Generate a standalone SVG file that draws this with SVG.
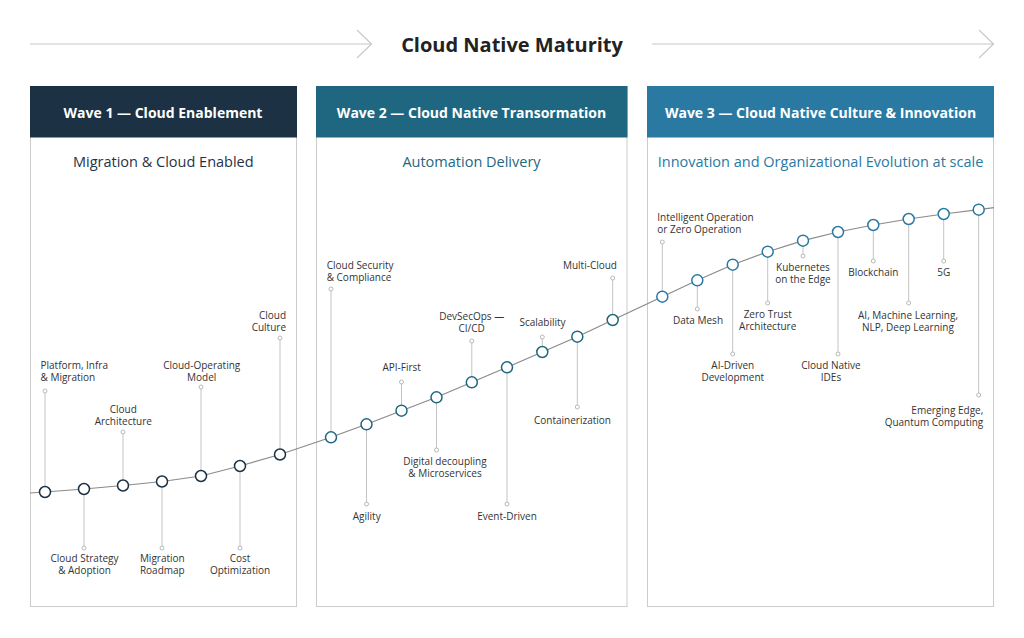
<svg xmlns="http://www.w3.org/2000/svg" width="1024" height="638" viewBox="0 0 1024 638">
<style>
text{font-family:"Open Sans","Liberation Sans",sans-serif}
.panel{fill:#fff;stroke:#cccccc;stroke-width:1}
.htxt{fill:#fff;font-size:14px;font-weight:700;text-anchor:middle}
.sub{font-size:14.5px;text-anchor:middle}
.lbl{fill:#333;font-size:10px}
.m{text-anchor:middle}.s{text-anchor:start}.e{text-anchor:end}
.lead{stroke:#c4c4c4;stroke-width:1;fill:none}
.tip{fill:#fff;stroke:#b0b0b0;stroke-width:0.9}
.dot{fill:#fff;stroke-width:1.5}
.w1 .dot{stroke:#1c3144}.w2 .dot{stroke:#1f6781}.w3 .dot{stroke:#2a79a3}
.arrow{stroke:#c8c8c8;stroke-width:1.2;fill:none}
</style>
<rect width="1024" height="638" fill="#fff"/>
<g id="title">
<path class="arrow" d="M30 44H371M357 30L371.5 44L357 58"/>
<path class="arrow" d="M652 44H993M979 30L993.5 44L979 58"/>
<text x="512" y="51.5" font-size="20" font-weight="700" fill="#222" text-anchor="middle">Cloud Native Maturity</text>
</g>
<g id="wave1">
<rect class="panel" x="30.5" y="86.5" width="266" height="520"/>
<rect x="30" y="86" width="267" height="51.5" fill="#1c3144"/>
<text class="htxt" x="163" y="117.5">Wave 1 — Cloud Enablement</text>
<text class="sub" x="163.3" y="166.5" fill="#1f3346">Migration &amp; Cloud Enabled</text>
</g>
<g id="wave2">
<rect class="panel" x="316.5" y="86.5" width="310.5" height="520"/>
<rect x="316" y="86" width="311.5" height="51.5" fill="#1f6781"/>
<text class="htxt" x="471.5" y="117.5">Wave 2 — Cloud Native Transormation</text>
<text class="sub" x="471.5" y="166.5" fill="#1f6781">Automation Delivery</text>
</g>
<g id="wave3">
<rect class="panel" x="647.5" y="86.5" width="346" height="520"/>
<rect x="647" y="86" width="347" height="51.5" fill="#2a79a3"/>
<text class="htxt" x="820.5" y="117.5">Wave 3 — Cloud Native Culture &amp; Innovation</text>
<text class="sub" x="820.5" y="166.5" fill="#2a79a3">Innovation and Organizational Evolution at scale</text>
</g>
<g id="connectors">
<polyline fill="none" stroke="#8a8a8a" stroke-width="1.2" points="30,493 45,492 84,489 123,485.5 162,481.5 201,476 240,466 280,454.5 331,437.3 366.5,424.3 401.5,410.7 436.5,397.3 471.8,382.3 507,367.3 542.3,352 577.3,336.7 612.7,320 662.3,296.7 697.3,280.3 732.7,264.7 767.7,251.7 803,240.7 838,232 873.3,225 908.7,219 943.7,214 978.7,209.7 994,207.6"/>
</g>
<g class="w1">
<g id="n1"><line class="lead" x1="45" y1="492" x2="45" y2="391"/><circle class="tip" cx="45" cy="391" r="2"/><circle class="dot" cx="45" cy="492" r="5.5"/><text class="lbl s" x="40.5" y="368.5">Platform, Infra</text><text class="lbl s" x="40.5" y="380.5">&amp; Migration</text></g>
<g id="n2"><line class="lead" x1="84" y1="489" x2="84" y2="548"/><circle class="tip" cx="84" cy="548" r="2"/><circle class="dot" cx="84" cy="489" r="5.5"/><text class="lbl m" x="84.5" y="562">Cloud Strategy</text><text class="lbl m" x="84.5" y="574">&amp; Adoption</text></g>
<g id="n3"><line class="lead" x1="123" y1="485.5" x2="123" y2="432"/><circle class="tip" cx="123" cy="432" r="2"/><circle class="dot" cx="123" cy="485.5" r="5.5"/><text class="lbl m" x="123.3" y="413">Cloud</text><text class="lbl m" x="123.3" y="425">Architecture</text></g>
<g id="n4"><line class="lead" x1="162" y1="481.5" x2="162" y2="548"/><circle class="tip" cx="162" cy="548" r="2"/><circle class="dot" cx="162" cy="481.5" r="5.5"/><text class="lbl m" x="162.3" y="562">Migration</text><text class="lbl m" x="162.3" y="574">Roadmap</text></g>
<g id="n5"><line class="lead" x1="201" y1="476" x2="201" y2="387"/><circle class="tip" cx="201" cy="387" r="2"/><circle class="dot" cx="201" cy="476" r="5.5"/><text class="lbl m" x="201.7" y="368.5">Cloud-Operating</text><text class="lbl m" x="201.7" y="380.5">Model</text></g>
<g id="n6"><line class="lead" x1="240" y1="466" x2="240" y2="548"/><circle class="tip" cx="240" cy="548" r="2"/><circle class="dot" cx="240" cy="466" r="5.5"/><text class="lbl m" x="240" y="562">Cost</text><text class="lbl m" x="240" y="574">Optimization</text></g>
<g id="n7"><line class="lead" x1="280" y1="454.5" x2="280" y2="338"/><circle class="tip" cx="280" cy="338" r="2"/><circle class="dot" cx="280" cy="454.5" r="5.5"/><text class="lbl e" x="286" y="318.5">Cloud</text><text class="lbl e" x="286" y="330.5">Culture</text></g>
</g>
<g class="w2">
<g id="n8"><line class="lead" x1="331" y1="437.3" x2="331" y2="289"/><circle class="tip" cx="331" cy="289" r="2"/><circle class="dot" cx="331" cy="437.3" r="5.5"/><text class="lbl s" x="326.7" y="269">Cloud Security</text><text class="lbl s" x="326.7" y="281">&amp; Compliance</text></g>
<g id="n9"><line class="lead" x1="366.5" y1="424.3" x2="366.5" y2="504"/><circle class="tip" cx="366.5" cy="504" r="2"/><circle class="dot" cx="366.5" cy="424.3" r="5.5"/><text class="lbl m" x="366.7" y="519.5">Agility</text></g>
<g id="n10"><line class="lead" x1="401.5" y1="410.7" x2="401.5" y2="382"/><circle class="tip" cx="401.5" cy="382" r="2"/><circle class="dot" cx="401.5" cy="410.7" r="5.5"/><text class="lbl m" x="401.7" y="371">API-First</text></g>
<g id="n11"><line class="lead" x1="436.5" y1="397.3" x2="436.5" y2="450"/><circle class="tip" cx="436.5" cy="450" r="2"/><circle class="dot" cx="436.5" cy="397.3" r="5.5"/><text class="lbl m" x="445" y="465">Digital decoupling</text><text class="lbl m" x="445" y="477">&amp; Microservices</text></g>
<g id="n12"><line class="lead" x1="471.8" y1="382.3" x2="471.8" y2="341"/><circle class="tip" cx="471.8" cy="341" r="2"/><circle class="dot" cx="471.8" cy="382.3" r="5.5"/><text class="lbl m" x="471.7" y="319.5">DevSecOps —</text><text class="lbl m" x="471.7" y="331.5">CI/CD</text></g>
<g id="n13"><line class="lead" x1="507" y1="367.3" x2="507" y2="504"/><circle class="tip" cx="507" cy="504" r="2"/><circle class="dot" cx="507" cy="367.3" r="5.5"/><text class="lbl m" x="507" y="519.5">Event-Driven</text></g>
<g id="n14"><line class="lead" x1="542.3" y1="352" x2="542.3" y2="337"/><circle class="tip" cx="542.3" cy="337" r="2"/><circle class="dot" cx="542.3" cy="352" r="5.5"/><text class="lbl m" x="542.5" y="326">Scalability</text></g>
<g id="n15"><line class="lead" x1="577.3" y1="336.7" x2="577.3" y2="407"/><circle class="tip" cx="577.3" cy="407" r="2"/><circle class="dot" cx="577.3" cy="336.7" r="5.5"/><text class="lbl m" x="572.5" y="423.5">Containerization</text></g>
<g id="n16"><line class="lead" x1="612.7" y1="320" x2="612.7" y2="278"/><circle class="tip" cx="612.7" cy="278" r="2"/><circle class="dot" cx="612.7" cy="320" r="5.5"/><text class="lbl e" x="617" y="269">Multi-Cloud</text></g>
</g>
<g class="w3">
<g id="n17"><line class="lead" x1="662.3" y1="296.7" x2="662.3" y2="242"/><circle class="tip" cx="662.3" cy="242" r="2"/><circle class="dot" cx="662.3" cy="296.7" r="5.5"/><text class="lbl s" x="657.3" y="221">Intelligent Operation</text><text class="lbl s" x="657.3" y="233">or Zero Operation</text></g>
<g id="n18"><line class="lead" x1="697.3" y1="280.3" x2="697.3" y2="309"/><circle class="tip" cx="697.3" cy="309" r="2"/><circle class="dot" cx="697.3" cy="280.3" r="5.5"/><text class="lbl m" x="698" y="323.5">Data Mesh</text></g>
<g id="n19"><line class="lead" x1="732.7" y1="264.7" x2="732.7" y2="354"/><circle class="tip" cx="732.7" cy="354" r="2"/><circle class="dot" cx="732.7" cy="264.7" r="5.5"/><text class="lbl m" x="732.8" y="369">AI-Driven</text><text class="lbl m" x="732.8" y="381">Development</text></g>
<g id="n20"><line class="lead" x1="767.7" y1="251.7" x2="767.7" y2="303"/><circle class="tip" cx="767.7" cy="303" r="2"/><circle class="dot" cx="767.7" cy="251.7" r="5.5"/><text class="lbl m" x="767.7" y="318">Zero Trust</text><text class="lbl m" x="767.7" y="330">Architecture</text></g>
<g id="n21"><line class="lead" x1="803" y1="240.7" x2="803" y2="256"/><circle class="tip" cx="803" cy="256" r="2"/><circle class="dot" cx="803" cy="240.7" r="5.5"/><text class="lbl m" x="803" y="271">Kubernetes</text><text class="lbl m" x="803" y="283">on the Edge</text></g>
<g id="n22"><line class="lead" x1="838" y1="232" x2="838" y2="354"/><circle class="tip" cx="838" cy="354" r="2"/><circle class="dot" cx="838" cy="232" r="5.5"/><text class="lbl m" x="831" y="369">Cloud Native</text><text class="lbl m" x="831" y="381">IDEs</text></g>
<g id="n23"><line class="lead" x1="873.3" y1="225" x2="873.3" y2="261"/><circle class="tip" cx="873.3" cy="261" r="2"/><circle class="dot" cx="873.3" cy="225" r="5.5"/><text class="lbl m" x="873.3" y="276">Blockchain</text></g>
<g id="n24"><line class="lead" x1="908.7" y1="219" x2="908.7" y2="303"/><circle class="tip" cx="908.7" cy="303" r="2"/><circle class="dot" cx="908.7" cy="219" r="5.5"/><text class="lbl m" x="908" y="318.5">AI, Machine Learning,</text><text class="lbl m" x="908" y="330.5">NLP, Deep Learning</text></g>
<g id="n25"><line class="lead" x1="943.7" y1="214" x2="943.7" y2="261"/><circle class="tip" cx="943.7" cy="261" r="2"/><circle class="dot" cx="943.7" cy="214" r="5.5"/><text class="lbl m" x="943.8" y="276">5G</text></g>
<g id="n26"><line class="lead" x1="978.7" y1="209.7" x2="978.7" y2="395"/><circle class="tip" cx="978.7" cy="395" r="2"/><circle class="dot" cx="978.7" cy="209.7" r="5.5"/><text class="lbl e" x="983.3" y="413.5">Emerging Edge,</text><text class="lbl e" x="983.3" y="425.5">Quantum Computing</text></g>
</g>
</svg>
